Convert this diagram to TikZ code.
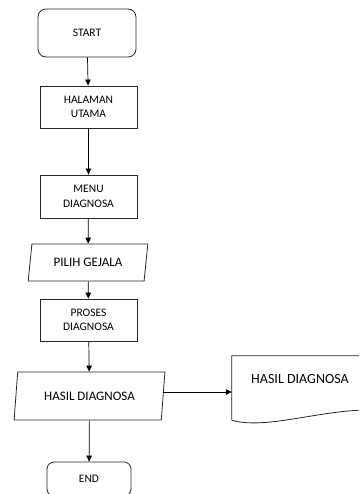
\documentclass[tikz,border=0pt]{standalone}
\usepackage{fontspec}
\setmainfont{Carlito}
\usetikzlibrary{shapes.geometric,arrows.meta}

\begin{document}
\begin{tikzpicture}[x=1pt,y=-1pt]
 \tikzstyle{arrow}   = [-{Triangle[length=6pt,width=5.5pt]},line width=0.7pt];
 \tikzstyle{base}    = [draw=black!85,line width=0.8pt,inner sep=0pt,align=center,
                        font=\fontsize{11.5}{14.5}\selectfont];
 \tikzstyle{terminal} = [base,rectangle,rounded corners=8pt];
 \tikzstyle{process} = [base,rectangle,minimum width=97pt,minimum height=42pt];
 \tikzstyle{io}      = [base,trapezium,trapezium left angle=75,trapezium right angle=105,
                        trapezium stretches=true,font=\fontsize{13}{15}\selectfont];
 \tikzstyle{docbox}  = [rectangle,minimum width=136pt,minimum height=64pt,inner sep=0pt];

 \clip (0,0) rectangle (359,494);

 %% start
 \node[terminal,minimum width=98pt,minimum height=48pt] (start) at (87,33) {START};

 %% halaman utama
 \node[process] (utama) at (88.5,107) {HALAMAN\\UTAMA};

 %% menu diagnosa
 \node[process,minimum height=43pt] (menu) at (88.5,196.5) {MENU\\DIAGNOSA};

 %% pilih gejala
 \node[io,minimum width=120pt,minimum height=37pt] (gejala) at (88,262.5) {PILIH GEJALA};

 %% proses diagnosa
 \node[process] (proses) at (88.5,320) {PROSES\\DIAGNOSA};

 %% hasil diagnosa
 \node[io,minimum width=151pt,minimum height=48pt] (hasil) at (89.5,396) {HASIL DIAGNOSA};

 %% end
 \node[terminal,minimum width=84pt,minimum height=34pt,rounded corners=7pt] (end) at (89,479) {END};

 %% document
 \node[docbox] (doc) at (300,388) {};
 \node[font=\fontsize{14}{16}\selectfont] (doctext) at (300,379) {HASIL DIAGNOSA};
 \draw[draw=black!85,line width=0.8pt] (doc.south west) -- (doc.north west) -- (doc.north east) -- (368,410);
 \draw[draw=black!85,line width=0.8pt] (doc.south west) .. controls (265,430) and (320,410) .. (368,410);
 \coordinate (docin) at (doc.west |- 0,392);

 \draw[arrow] (start) -- (utama);
 \draw[arrow] (utama) -- (menu);
 \draw[arrow] (menu) -- (gejala);
 \draw[arrow] (gejala) -- (proses);
 \draw[arrow] (proses) -- (hasil);
 \draw[arrow] (hasil) -- (end);
 \draw[arrow] (hasil.east |- docin) -- (docin);

\end{tikzpicture}
\end{document}
